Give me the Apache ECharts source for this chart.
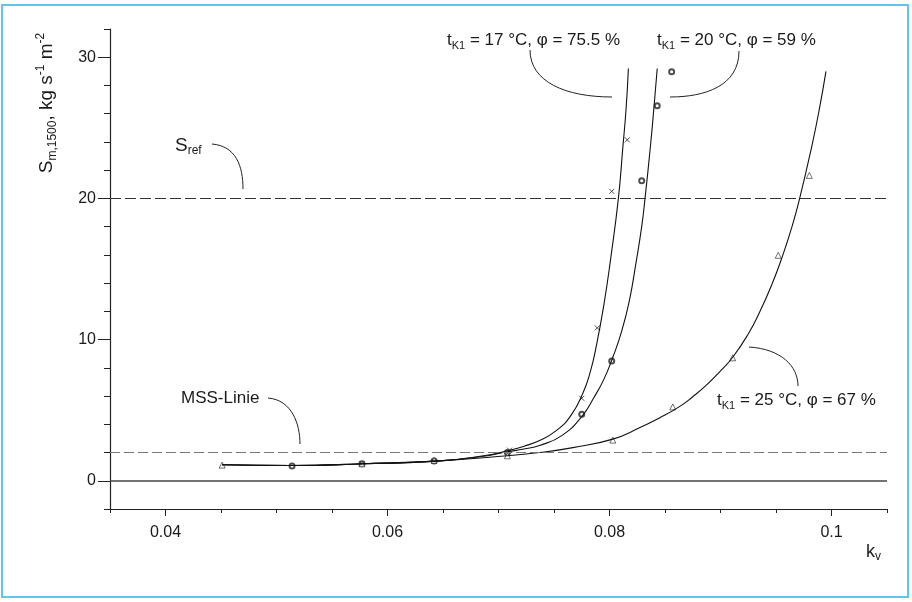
<!DOCTYPE html>
<html>
<head>
<meta charset="utf-8">
<script src="https://cdn.jsdelivr.net/npm/echarts@6/dist/echarts.min.js"></script>
<style>
  html, body { margin: 0; padding: 0; background: #fff; }
  #main { width: 912px; height: 602px; }
</style>
</head>
<body>
<div id="main"></div>
<script>
// Kurven: [k_v, S]
var curve17 = [[0.0451, 1.13], [0.0513, 1.08], [0.0578, 1.2], [0.0647, 1.41], [0.0685, 1.75], [0.0708, 2.12],
    [0.0723, 2.45], [0.0737, 2.85], [0.0752, 3.55], [0.0765, 4.6], [0.0776, 6.2], [0.0783, 7.8], [0.0788, 9.5],
    [0.0795, 12.5], [0.0801, 15.7], [0.0808, 20.0], [0.0812, 23.6], [0.0815, 26.4], [0.0817, 29.2]];
var curve20 = [[0.0451, 1.13], [0.0513, 1.08], [0.0578, 1.2], [0.0647, 1.41], [0.0685, 1.72], [0.0708, 2.05],
    [0.0723, 2.25], [0.0737, 2.5], [0.0757, 3.2], [0.0775, 4.55], [0.0786, 5.9], [0.0795, 7.2], [0.0803, 8.75],
    [0.0811, 10.6], [0.0818, 12.8], [0.0824, 15.5], [0.0829, 18.0], [0.0832, 20.0], [0.0837, 23.8], [0.0840, 26.4],
    [0.0843, 29.2]];
var curve25 = [[0.0451, 1.13], [0.0513, 1.08], [0.0578, 1.2], [0.0647, 1.41], [0.0708, 1.77], [0.0737, 2.0],
    [0.0767, 2.35], [0.0803, 2.95], [0.0827, 3.75], [0.0845, 4.45], [0.0863, 5.25], [0.0875, 5.95], [0.0887, 6.75],
    [0.0899, 7.7], [0.0911, 8.75], [0.0925, 10.4], [0.0935, 11.9], [0.0946, 13.85], [0.0956, 15.95], [0.0964, 17.9],
    [0.0971, 19.9], [0.0982, 23.6], [0.0989, 26.3], [0.0995, 29.0]];

// Messpunkte
var pts17 = [[0.0577, 1.2], [0.0642, 1.36], [0.0710, 2.17], [0.0775, 5.84], [0.0789, 10.83], [0.0802, 20.5], [0.0816, 24.15]];
var pts20 = [[0.0514, 1.04], [0.0577, 1.2], [0.0642, 1.4], [0.0708, 2.0], [0.0775, 4.71], [0.0802, 8.48],
    [0.0829, 21.25], [0.0843, 26.57], [0.0856, 28.98]];
var pts25 = [[0.0451, 1.11], [0.0577, 1.2], [0.0642, 1.45], [0.0708, 1.77], [0.0803, 2.88], [0.0857, 5.23],
    [0.0911, 8.71], [0.0952, 15.97], [0.0980, 21.63]];

var sRef = 20;
var mssLinie = 2;

var xLabels = [0.04, 0.06, 0.08, 0.1];
var yLabels = [0, 10, 20, 30];

var chart = echarts.init(document.getElementById('main'));
var txt = '#1a1a1a';
var font = 'Liberation Sans, Arial, sans-serif';

// Achsen: Hauptgitter und ein zweites Gitter nur fuer die langen Striche
var G = { left: 110, right: 25, top: 29, bottom: 93 };
var xMin = 0.035, xMax = 0.105, yMin = -2, yMax = 32;
var pxX = (912 - G.left - G.right) / (xMax - xMin);
var pxY = (602 - G.top - G.bottom) / (yMax - yMin);
var G2 = {
    left: G.left + (xLabels[0] - xMin) * pxX,
    right: G.right + (xMax - xLabels[xLabels.length - 1]) * pxX,
    top: G.top + (yMax - yLabels[yLabels.length - 1]) * pxY,
    bottom: G.bottom + (yLabels[0] - yMin) * pxY
};

function richLabel(main, sub, rest, size) {
    return {
        text: '{t|' + main + '}{s|' + sub + '}' + (rest ? '{t|' + rest + '}' : ''),
        rich: {
            t: { fontSize: size, fontFamily: font, fill: txt, lineHeight: 22 },
            s: { fontSize: Math.round(size * 0.65), fontFamily: font, fill: txt, lineHeight: 12, verticalAlign: 'bottom' }
        }
    };
}

function leader(x1, y1, cx1, cy1, cx2, cy2, x2, y2) {
    return {
        type: 'bezierCurve',
        shape: { x1: x1, y1: y1, cpx1: cx1, cpy1: cy1, cpx2: cx2, cpy2: cy2, x2: x2, y2: y2 },
        style: { stroke: '#222', lineWidth: 1, fill: null },
        silent: true
    };
}

function textAt(x, y, obj) {
    return {
        type: 'text',
        x: x, y: y,
        style: Object.assign({ verticalAlign: 'middle', align: 'left' }, obj),
        silent: true
    };
}

var option = {
    animation: false,
    backgroundColor: '#fff',
    grid: [G, G2],
    xAxis: [{
        type: 'value', min: xMin, max: xMax, interval: 0.005, position: 'bottom', gridIndex: 0,
        axisLine: { show: true, onZero: false, lineStyle: { color: '#222', width: 1.2 } },
        axisTick: { show: true, inside: false, length: 4, lineStyle: { color: '#222', width: 1 } },
        axisLabel: {
            margin: 16, fontSize: 16, color: txt, fontFamily: font,
            formatter: function (v) {
                var r = Math.round(v * 1000) / 1000;
                return xLabels.indexOf(r) >= 0 ? String(r) : '';
            }
        },
        splitLine: { show: false }
    }, {
        type: 'value', min: xLabels[0], max: xLabels[xLabels.length - 1], interval: 0.02, gridIndex: 1,
        position: 'bottom', offset: G2.bottom - G.bottom,
        axisLine: { show: false, onZero: false },
        axisTick: { show: true, inside: false, length: 7, lineStyle: { color: '#222', width: 1 } },
        axisLabel: { show: false },
        splitLine: { show: false }
    }],
    yAxis: [{
        type: 'value', min: yMin, max: yMax, interval: 2, position: 'left', gridIndex: 0,
        axisLine: { show: true, onZero: false, lineStyle: { color: '#222', width: 1.2 } },
        axisTick: { show: true, inside: false, length: 6, lineStyle: { color: '#222', width: 1 } },
        axisLabel: {
            margin: 14, fontSize: 16, color: txt, fontFamily: font,
            formatter: function (v) { return yLabels.indexOf(v) >= 0 ? String(v) : ''; }
        },
        splitLine: { show: false }
    }, {
        type: 'value', min: yLabels[0], max: yLabels[yLabels.length - 1], interval: 10, gridIndex: 1,
        position: 'left', offset: G2.left - G.left,
        axisLine: { show: false, onZero: false },
        axisTick: { show: true, inside: false, length: 12, lineStyle: { color: '#222', width: 1 } },
        axisLabel: { show: false },
        splitLine: { show: false }
    }],
    series: [
        {
            type: 'line', data: curve17, smooth: 0.5, symbol: 'none',
            lineStyle: { color: '#111', width: 1.1 },
            markLine: {
                silent: true, symbol: 'none', label: { show: false },
                data: [
                    { yAxis: 0, lineStyle: { type: 'solid', color: '#444', width: 1.6 } },
                    { yAxis: sRef, lineStyle: { type: [11, 4], color: '#333', width: 1.2 } },
                    { yAxis: mssLinie, lineStyle: { type: [10, 4], color: '#777', width: 1 } }
                ]
            }
        },
        { type: 'line', data: curve20, smooth: 0.5, symbol: 'none', lineStyle: { color: '#111', width: 1.1 } },
        { type: 'line', data: curve25, smooth: 0.5, symbol: 'none', lineStyle: { color: '#111', width: 1.1 } },
        {
            type: 'scatter', data: pts17, symbol: 'path://M0,0L10,10M10,0L0,10', symbolSize: 5,
            itemStyle: { color: 'none', borderColor: '#222', borderWidth: 1 }
        },
        {
            type: 'scatter', data: pts20, symbol: 'emptyCircle', symbolSize: 5,
            itemStyle: { color: '#222', borderWidth: 0.9 }
        },
        {
            type: 'scatter', data: pts25, symbol: 'path://M5,0L10,9L0,9Z', symbolSize: 6,
            itemStyle: { color: '#fff', borderColor: '#222', borderWidth: 0.8 }
        }
    ],
    graphic: [
        {
            type: 'rect', shape: { x: 2, y: 5, width: 906, height: 592 },
            style: { fill: null, stroke: '#5cc6ef', lineWidth: 2 }, silent: true
        },
        textAt(447, 40, richLabel('t', 'K1', ' = 17 °C, φ = 75.5 %', 17)),
        textAt(657, 40, richLabel('t', 'K1', ' = 20 °C, φ = 59 %', 17)),
        textAt(717, 400, richLabel('t', 'K1', ' = 25 °C, φ = 67 %', 17)),
        textAt(175, 146, richLabel('S', 'ref', '', 19)),
        textAt(181, 398, { text: 'MSS-Linie', fontSize: 17, fontFamily: font, fill: txt }),
        textAt(866, 552, richLabel('k', 'v', '', 18)),
        {
            type: 'text', x: 47, y: 103, rotation: Math.PI / 2, silent: true,
            style: {
                align: 'center', verticalAlign: 'middle',
                text: '{t|S}{s|m,1500}{t|, kg s}{p|-1}{t| m}{p|-2}',
                rich: {
                    t: { fontSize: 19, fontFamily: font, fill: txt, lineHeight: 24 },
                    s: { fontSize: 12, fontFamily: font, fill: txt, lineHeight: 12, verticalAlign: 'bottom' },
                    p: { fontSize: 12, fontFamily: font, fill: txt, lineHeight: 14, verticalAlign: 'top' }
                }
            }
        },
        leader(530, 50, 530, 82, 566, 97, 612, 97),
        leader(739, 51, 739, 86, 705, 97, 670, 97),
        leader(212, 144, 236, 146, 243, 166, 243, 189),
        leader(268, 398, 292, 400, 300, 424, 300, 444),
        leader(749, 347, 781, 349, 798, 366, 798, 386)
    ]
};

chart.setOption(option);
</script>
</body>
</html>
